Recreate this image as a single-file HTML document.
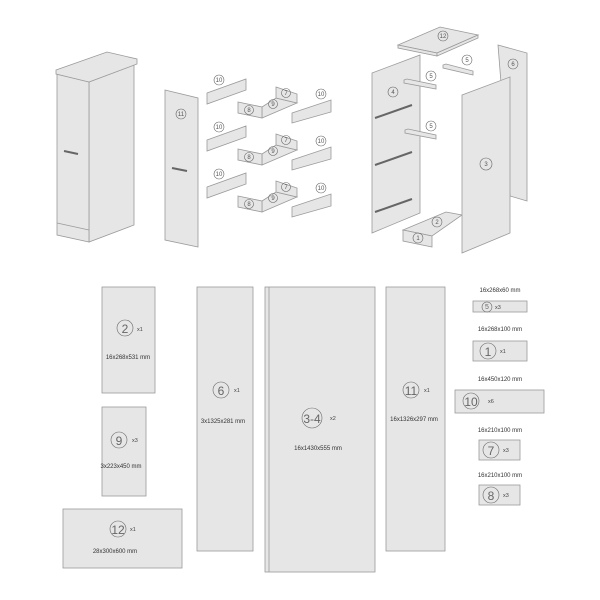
<!DOCTYPE html>
<html><head><style>body{margin:0;background:#fff}svg{display:block}</style></head><body>
<svg width="600" height="600" viewBox="0 0 600 600" xmlns="http://www.w3.org/2000/svg" font-family="Liberation Sans, sans-serif">
<defs><style>
.p{fill:#e6e6e6;stroke:#9a9a9a;stroke-width:0.8}
.c{fill:none;stroke:#666;stroke-width:0.6}
.t{font-size:6px;fill:#555;text-anchor:middle}
.n{fill:#666;text-anchor:middle}
.s{font-size:5.5px;fill:#444}
.d{font-size:6px;fill:#333;text-anchor:middle}
.h{stroke:#666;stroke-width:2}
</style></defs>
<!-- cabinet -->
<polygon class="p" points="89,82 134,65 134,225 89,242"/>
<polygon class="p" points="57,74 89,82 89,242 57,235"/>
<line x1="57" y1="223" x2="89" y2="230" stroke="#9a9a9a" stroke-width="0.8"/>
<polygon class="p" points="56,70 107,52 137,59 137,64 89,82 56,74"/>
<line x1="64" y1="151" x2="78" y2="154" class="h"/>
<!-- panel 11 -->
<polygon class="p" points="165,90 198,98 198,247 165,240"/>
<line x1="172" y1="168" x2="187" y2="171" class="h"/>
<circle class="c" cx="181" cy="114" r="5"/><text class="t" x="181" y="116">11</text>
<!-- drawers -->
<g id="row">
<polygon class="p" points="207,93 246,79 246,90 207,104"/>
<circle class="c" cx="219" cy="80" r="5"/><text class="t" x="219" y="82">10</text>
<polygon class="p" points="262,107 276,98 297,103 262,118"/>
<polygon class="p" points="276,87 297,94 297,103 276,98"/>
<polygon class="p" points="238,102 262,107 262,118 238,113"/>
<circle class="c" cx="249" cy="110" r="4.5"/><text class="t" x="249" y="112">8</text>
<circle class="c" cx="273" cy="104" r="4.5"/><text class="t" x="273" y="106">9</text>
<circle class="c" cx="286" cy="93" r="4.5"/><text class="t" x="286" y="95">7</text>
<polygon class="p" points="292,113 331,100 331,112 292,123"/>
<circle class="c" cx="321" cy="94" r="5"/><text class="t" x="321" y="96">10</text>
</g>
<use href="#row" y="47"/>
<use href="#row" y="94"/>
<!-- exploded right -->
<polygon class="p" points="498,45 527,53 527,201 510,196"/>
<circle class="c" cx="513" cy="64" r="5"/><text class="t" x="513" y="66">6</text>
<polygon class="p" points="372,73 420,55 420,213 372,233"/>
<circle class="c" cx="393" cy="92" r="5"/><text class="t" x="393" y="94">4</text>
<line x1="375" y1="118" x2="412" y2="105" class="h" stroke-width="2.5"/>
<line x1="375" y1="165" x2="412" y2="152" class="h" stroke-width="2.5"/>
<line x1="375" y1="212" x2="412" y2="199" class="h" stroke-width="2.5"/>
<polygon class="p" points="398,45 440,27 478,35 437,53"/>
<polygon class="p" points="398,45 437,53 437,56 398,48"/>
<polygon class="p" points="437,53 478,35 478,38 437,56"/>
<circle class="c" cx="443" cy="36" r="5"/><text class="t" x="443" y="38">12</text>
<polygon class="p" points="443,65 446,64 473,71 473,75 443,68"/>
<circle class="c" cx="467" cy="60" r="5"/><text class="t" x="467" y="62">5</text>
<polygon class="p" points="404,80 407,79 436,85 436,89 404,83"/>
<circle class="c" cx="431" cy="76" r="5"/><text class="t" x="431" y="78">5</text>
<polygon class="p" points="405,130 408,129 436,135 436,139 405,133"/>
<circle class="c" cx="431" cy="126" r="5"/><text class="t" x="431" y="128">5</text>
<polygon class="p" points="403,230 446,212 462,215 432,236"/>
<circle class="c" cx="437" cy="222" r="5"/><text class="t" x="437" y="224">2</text>
<polygon class="p" points="403,230 432,236 432,247 403,241"/>
<circle class="c" cx="418" cy="238" r="5"/><text class="t" x="418" y="240">1</text>
<polygon class="p" points="462,95 510,77 510,233 462,253"/>
<circle class="c" cx="486" cy="164" r="6"/><text class="t" x="486" y="166">3</text>
<!-- parts list -->
<rect class="p" x="102" y="287" width="53" height="106"/>
<circle class="c" cx="125" cy="328" r="8"/><text class="n" x="125" y="333" font-size="12">2</text>
<text class="s" x="137" y="331">x1</text><text class="d" x="128" y="359">16x268x531 mm</text>
<rect class="p" x="102" y="407" width="44" height="89"/>
<circle class="c" cx="119" cy="440" r="8"/><text class="n" x="119" y="445" font-size="12">9</text>
<text class="s" x="132" y="442">x3</text><text class="d" x="121" y="468" font-size="4.5">3x223x450 mm</text>
<rect class="p" x="63" y="509" width="119" height="59"/>
<circle class="c" cx="118" cy="529" r="8"/><text class="n" x="118" y="534" font-size="12">12</text>
<text class="s" x="130" y="531">x1</text><text class="d" x="115" y="553">28x300x600 mm</text>
<rect class="p" x="197" y="287" width="56" height="264"/>
<circle class="c" cx="221" cy="390" r="8"/><text class="n" x="221" y="395" font-size="12">6</text>
<text class="s" x="234" y="392">x1</text><text class="d" x="223" y="423">3x1325x281 mm</text>
<rect class="p" x="265" y="287" width="110" height="285"/>
<line x1="269" y1="287" x2="269" y2="572" stroke="#9a9a9a" stroke-width="0.8"/>
<circle class="c" cx="312" cy="418" r="10"/><text class="n" x="312" y="423" font-size="12">3-4</text>
<text class="s" x="330" y="420">x2</text><text class="d" x="318" y="450">16x1430x555 mm</text>
<rect class="p" x="386" y="287" width="59" height="264"/>
<circle class="c" cx="411" cy="390" r="8"/><text class="n" x="411" y="395" font-size="12">11</text>
<text class="s" x="424" y="392">x1</text><text class="d" x="414" y="421">16x1326x297 mm</text>
<text class="d" x="500" y="292">16x268x60 mm</text>
<rect class="p" x="473" y="301" width="54" height="11"/>
<circle class="c" cx="487" cy="307" r="5"/><text class="n" x="487" y="309" font-size="7">5</text><text class="s" x="495" y="309">x3</text>
<text class="d" x="500" y="331">16x268x100 mm</text>
<rect class="p" x="473" y="341" width="54" height="20"/>
<circle class="c" cx="488" cy="351" r="8"/><text class="n" x="488" y="356" font-size="12">1</text><text class="s" x="500" y="353">x1</text>
<text class="d" x="500" y="381">16x450x120 mm</text>
<rect class="p" x="455" y="390" width="89" height="23"/>
<circle class="c" cx="471" cy="401" r="8"/><text class="n" x="471" y="406" font-size="12">10</text><text class="s" x="488" y="403">x6</text>
<text class="d" x="500" y="432">16x210x100 mm</text>
<rect class="p" x="479" y="440" width="41" height="20"/>
<circle class="c" cx="491" cy="450" r="8"/><text class="n" x="491" y="455" font-size="12">7</text><text class="s" x="503" y="452">x3</text>
<text class="d" x="500" y="477">16x210x100 mm</text>
<rect class="p" x="479" y="485" width="41" height="20"/>
<circle class="c" cx="491" cy="495" r="8"/><text class="n" x="491" y="500" font-size="12">8</text><text class="s" x="503" y="497">x3</text>
</svg>
</body></html>
